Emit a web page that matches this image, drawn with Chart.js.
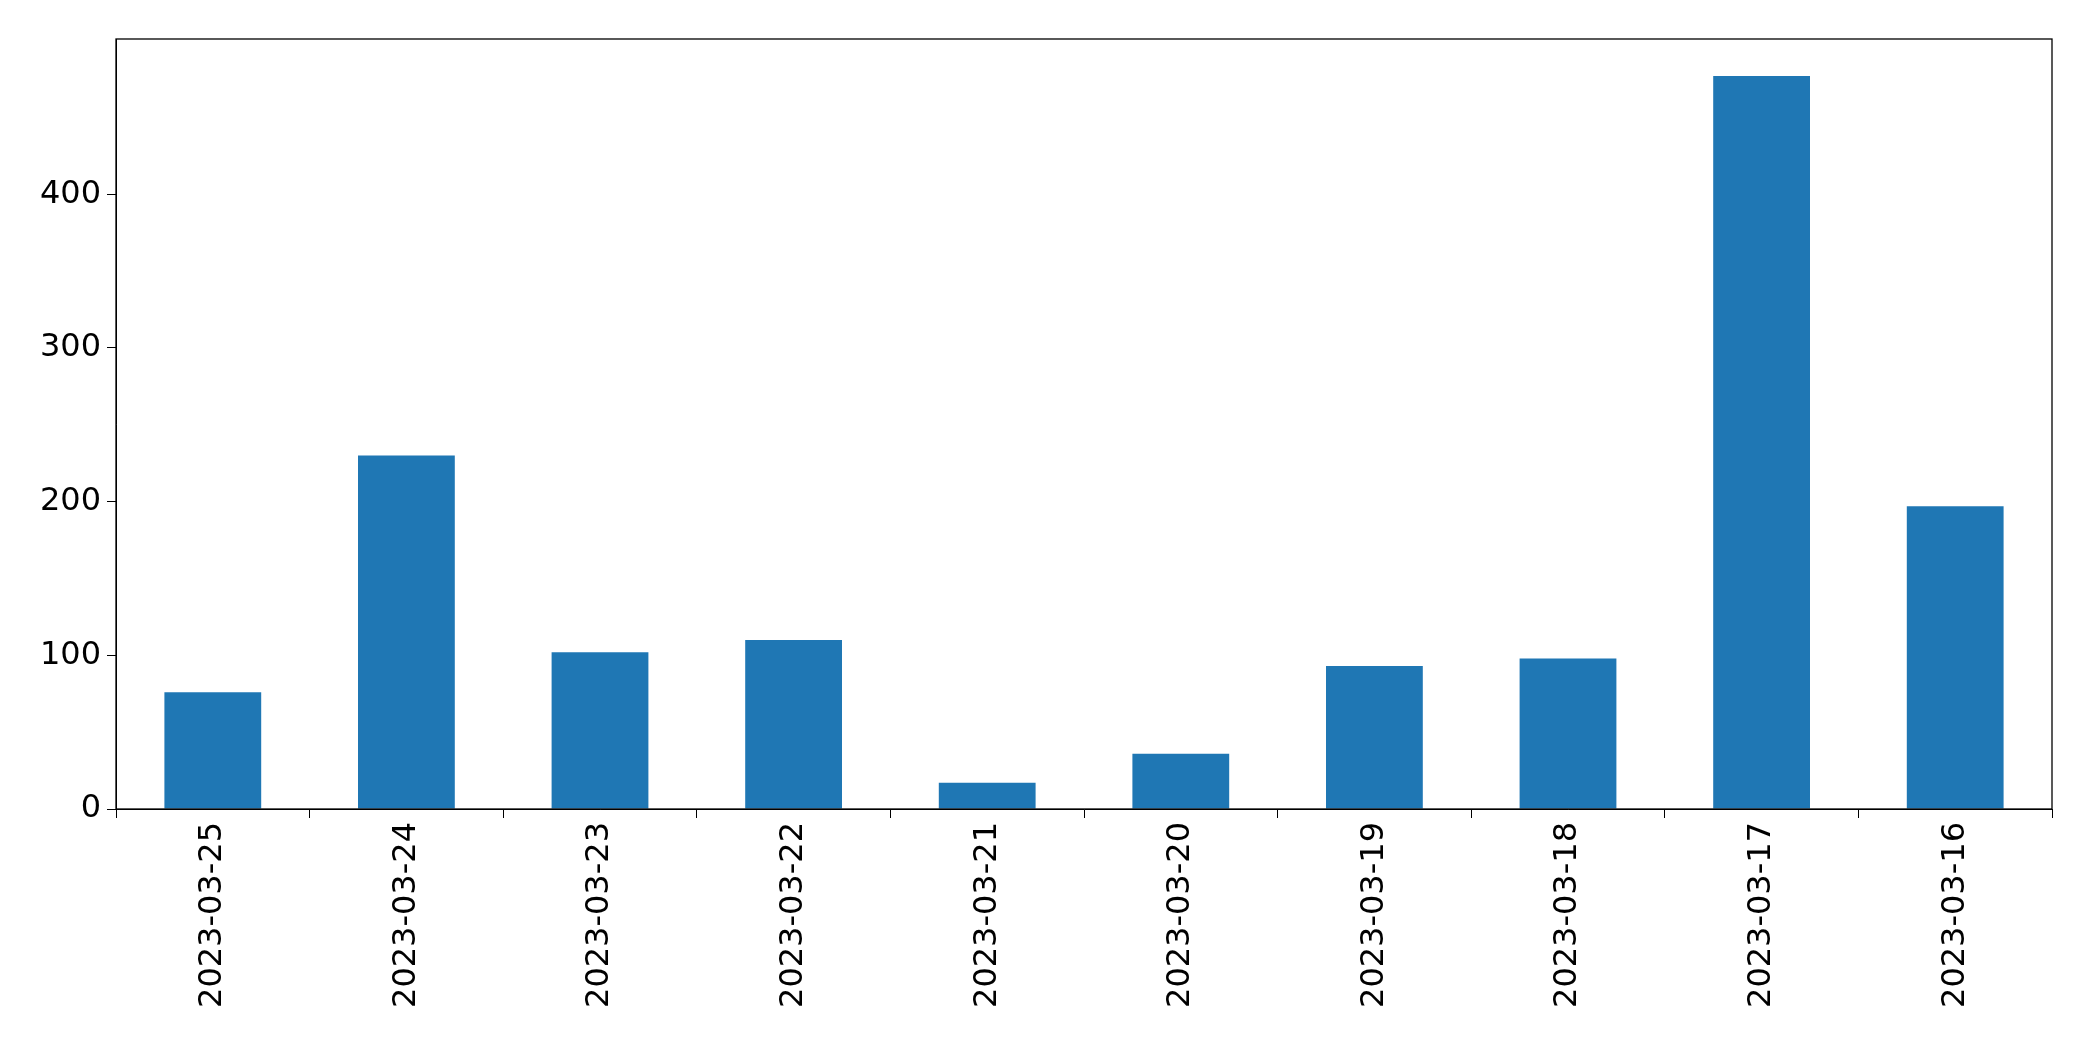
<!DOCTYPE html>
<html lang="en">
<head>
  <meta charset="UTF-8">
  <title>Daily counts</title>
  <script src="https://cdn.jsdelivr.net/npm/chart.js"></script>
  <style>
    body { margin: 0; background: #fff; }
    #wrap { width: 2093px; height: 1061px; }
  </style>
</head>
<body>
  <div id="wrap"><canvas id="myChart"></canvas></div>
  <script>
    // data
    const dates = ['2023-03-25', '2023-03-24', '2023-03-23', '2023-03-22', '2023-03-21',
                   '2023-03-20', '2023-03-19', '2023-03-18', '2023-03-17', '2023-03-16'];
    const counts = [76, 230, 102, 110, 17, 36, 93, 98, 477, 197];
    const yTicks = [0, 100, 200, 300, 400];

    // draw the box around the plot area like matplotlib
    const frame = {
      id: 'frame',
      afterDraw(chart) {
        const a = chart.chartArea, ctx = chart.ctx;
        ctx.save();
        ctx.strokeStyle = '#000';
        ctx.lineWidth = 1.3;
        ctx.strokeRect(a.left, a.top, a.right - a.left, a.bottom - a.top);
        ctx.restore();
      }
    };

    new Chart(document.getElementById('myChart'), {
      type: 'bar',
      data: {
        labels: dates,
        datasets: [{
          data: counts,
          backgroundColor: '#1f77b4',
          categoryPercentage: 1,
          barPercentage: 0.5
        }]
      },
      options: {
        responsive: true,
        maintainAspectRatio: false,
        animation: false,
        layout: { padding: { top: 39, right: 41, left: 0, bottom: 0 } },
        plugins: { legend: { display: false }, tooltip: { enabled: false } },
        scales: {
          x: {
            grid: { drawOnChartArea: false, tickLength: 9, color: '#000' },
            border: { color: '#000' },
            ticks: {
              color: '#000', minRotation: 90, maxRotation: 90, padding: 4,
              font: { family: 'DejaVu Sans', size: 32 }
            },
            afterFit(s) { s.height = 252; }
          },
          y: {
            min: 0,
            max: 501,
            grid: { drawOnChartArea: false, tickLength: 9, color: '#000' },
            border: { color: '#000' },
            ticks: { color: '#000', padding: 6, font: { family: 'DejaVu Sans', size: 32 } },
            afterBuildTicks(s) { s.ticks = yTicks.map(v => ({ value: v })); },
            afterFit(s) { s.width = 116; }
          }
        }
      },
      plugins: [frame]
    });
  </script>
</body>
</html>
